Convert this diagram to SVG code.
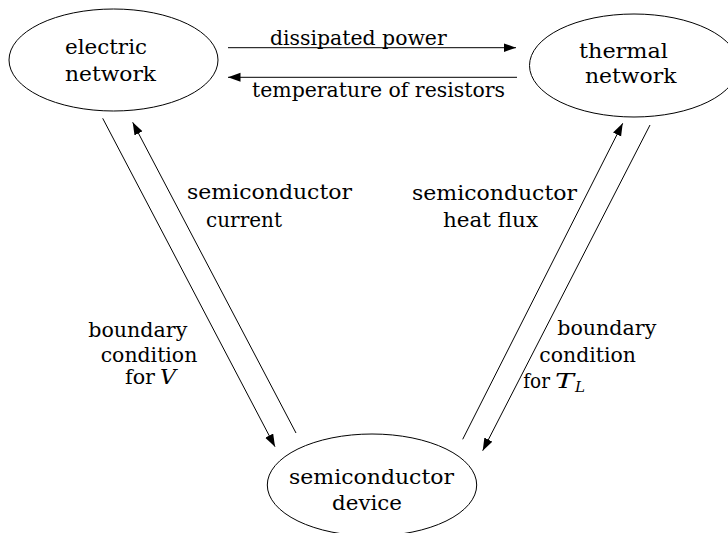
<svg xmlns="http://www.w3.org/2000/svg" width="728" height="533" viewBox="0 0 728 533">
<defs>
<style>
.n{fill:#fff;stroke:#000;stroke-width:1}
.c{fill:none;stroke:#000;stroke-width:1;marker-end:url(#ah)}
</style>
<marker id="ah" markerUnits="userSpaceOnUse" markerWidth="14" markerHeight="10" refX="12.5" refY="4.5" orient="auto">
<path d="M0,0 L12.5,4.5 L0,9 z" fill="#000"/>
</marker>
</defs>
<rect width="728" height="533" fill="#fff"/>
<g id="electric-network" font-family="DejaVu Serif, Liberation Serif, serif" font-size="20">
<ellipse class="n" cx="113.5" cy="60" rx="104.5" ry="51"/>
<text x="65" y="54" textLength="82" lengthAdjust="spacingAndGlyphs">electric</text>
<text x="65" y="80.5" textLength="91" lengthAdjust="spacingAndGlyphs">network</text>
</g>
<g id="thermal-network" font-family="DejaVu Serif, Liberation Serif, serif" font-size="20">
<ellipse class="n" cx="634" cy="65.5" rx="104.5" ry="51.5"/>
<text x="579" y="57.5" textLength="89" lengthAdjust="spacingAndGlyphs">thermal</text>
<text x="585" y="83" textLength="91.5" lengthAdjust="spacingAndGlyphs">network</text>
</g>
<g id="semiconductor-device" font-family="DejaVu Serif, Liberation Serif, serif" font-size="20">
<ellipse class="n" cx="372" cy="485" rx="104.7" ry="51"/>
<text x="289" y="483.5" textLength="165" lengthAdjust="spacingAndGlyphs">semiconductor</text>
<text x="332" y="510" textLength="70" lengthAdjust="spacingAndGlyphs">device</text>
</g>
<g id="connectors">
<path class="c" d="M228,47.7 L516,47.7"/>
<path class="c" d="M517,77.3 L228,77.3"/>
<path class="c" d="M102.7,118.3 L275,446.7"/>
<path class="c" d="M296,433 L132.7,122.3"/>
<path class="c" d="M462.7,439.3 L622.7,123.3"/>
<path class="c" d="M650,125 L482.7,450.7"/>
</g>
<g id="labels" font-family="DejaVu Serif, Liberation Serif, serif" font-size="20">
<text x="270" y="45.3" textLength="176.7" lengthAdjust="spacingAndGlyphs">dissipated power</text>
<text x="252" y="97" textLength="253" lengthAdjust="spacingAndGlyphs">temperature of resistors</text>
<text x="187" y="198.5" textLength="165" lengthAdjust="spacingAndGlyphs">semiconductor</text>
<text x="206" y="227" textLength="76" lengthAdjust="spacingAndGlyphs">current</text>
<text x="412" y="199.5" textLength="165" lengthAdjust="spacingAndGlyphs">semiconductor</text>
<text x="443" y="227" textLength="95" lengthAdjust="spacingAndGlyphs">heat flux</text>
<text x="88.3" y="336.5" textLength="99" lengthAdjust="spacingAndGlyphs">boundary</text>
<text x="100.7" y="362" textLength="96.6" lengthAdjust="spacingAndGlyphs">condition</text>
<text x="125" y="384" textLength="30" lengthAdjust="spacingAndGlyphs">for</text>
<text font-style="italic" x="160" y="384" textLength="16" lengthAdjust="spacingAndGlyphs">V</text>
<text x="557.3" y="334.5" textLength="99" lengthAdjust="spacingAndGlyphs">boundary</text>
<text x="539.3" y="362.3" textLength="96.6" lengthAdjust="spacingAndGlyphs">condition</text>
<text x="523.3" y="387.5" textLength="26.7" lengthAdjust="spacingAndGlyphs">for</text>
<text font-style="italic" x="555" y="387.5" textLength="19" lengthAdjust="spacingAndGlyphs">T</text>
<text font-style="italic" font-size="14" x="575" y="391.5" textLength="10" lengthAdjust="spacingAndGlyphs">L</text>
</g>
</svg>
